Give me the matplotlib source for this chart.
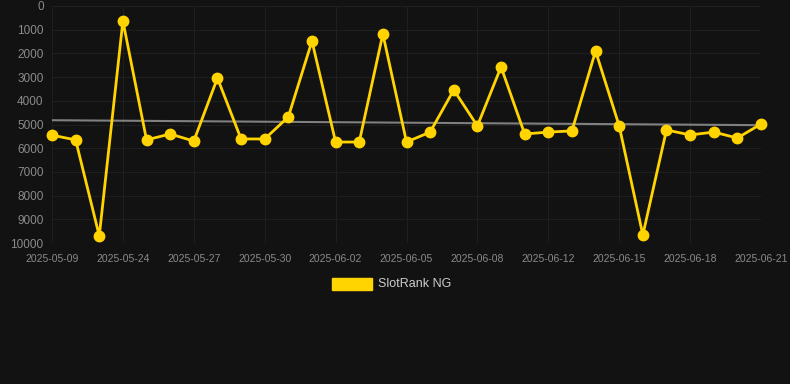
import numpy as np
import matplotlib.pyplot as plt

dates = ['2025-05-09', '2025-05-22', '2025-05-23', '2025-05-24', '2025-05-25', '2025-05-26',
         '2025-05-27', '2025-05-28', '2025-05-29', '2025-05-30', '2025-05-31', '2025-06-01',
         '2025-06-02', '2025-06-03', '2025-06-04', '2025-06-05', '2025-06-06', '2025-06-07',
         '2025-06-08', '2025-06-09', '2025-06-10', '2025-06-12', '2025-06-13', '2025-06-14',
         '2025-06-15', '2025-06-16', '2025-06-17', '2025-06-18', '2025-06-19', '2025-06-20',
         '2025-06-21']
rank = [5450, 5650, 9700, 630, 5650, 5400, 5700, 3040, 5610, 5610, 4680, 1480,
        5740, 5740, 1180, 5740, 5320, 3540, 5060, 2570, 5400, 5320, 5270, 1900,
        5060, 9660, 5230, 5440, 5320, 5570, 4980]

bg = '#121212'
x = np.arange(len(dates))
b, a = np.polyfit(x, rank, 1)

fig = plt.figure(figsize=(7.9, 3.84), dpi=100, facecolor=bg)
ax = fig.add_axes([52/790, 1 - 243/384, (761 - 52)/790, (243 - 6)/384], facecolor=bg)

ax.plot(x, a + b * x, color='#808080', lw=1.5, zorder=2)
ax.plot(x, rank, color='#FFD400', lw=2, marker='o', ms=7.5,
        solid_joinstyle='miter', zorder=3, clip_on=False)

ax.set_xlim(0, len(dates) - 1)
ax.set_ylim(10000, 0)
ax.set_yticks(range(0, 10001, 1000))
ax.set_xticks(x[::3])
ax.set_xticklabels(dates[::3])
ax.grid(True, color='#1f1f1f', lw=0.8)
for s in ax.spines.values():
    s.set_visible(False)
ax.tick_params(axis='x', colors='#8a8a8a', labelsize=7.5, length=0, pad=8)
ax.tick_params(axis='y', colors='#8a8a8a', labelsize=8.5, length=0, pad=6)
for lab in ax.get_xticklabels() + ax.get_yticklabels():
    lab.set_family('Liberation Sans')

fig.patches.append(plt.Rectangle((332/790, 1 - 290/384), 40/790, 12/384,
                                 transform=fig.transFigure, color='#FFD400'))
fig.text(378/790, 1 - 284/384, 'SlotRank NG', color='#cccccc', fontsize=9,
         family='Liberation Sans', va='center', ha='left')

fig.savefig('out.png', facecolor=bg)
